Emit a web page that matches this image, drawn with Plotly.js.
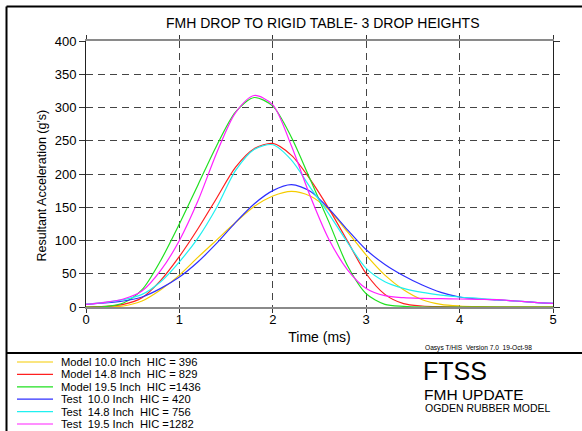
<!DOCTYPE html>
<html><head><meta charset="utf-8">
<script src="https://cdn.plot.ly/plotly-3.0.1.min.js"></script>
<style>html,body{margin:0;padding:0;background:#fff}#chart{width:582px;height:431px}</style>
</head><body><div id="chart"></div>
<script>
// ---- data ----
const time      = [0, 0.2, 0.4, 0.6, 0.8, 1.0, 1.2, 1.4, 1.6, 1.8, 2.0, 2.2, 2.4, 2.6, 2.8, 3.0, 3.2, 3.4, 3.6, 3.8, 4.0, 4.2, 4.4, 4.6, 4.8, 5.0];
const model100  = [0, 0, 1.5, 9, 26, 48, 75, 101, 127, 151, 167, 174, 167, 146, 113, 78, 48, 26, 11, 4, 1.5, 0.5, 0, 0, 0, 0];
const model148  = [0, 1, 4, 14, 40, 76, 118, 164, 210, 238, 246, 228, 192, 148, 99, 50, 19, 5, 1.5, 0.5, 0, 0, 0, 0, 0, 0];
const model195  = [0, 0.5, 6, 26, 70, 125, 184, 243, 293, 315, 302, 255, 192, 128, 62, 20, 4, 1, 0, 0, 0, 0, 0, 0, 0, 0];
const test100   = [4, 6, 9, 15, 28, 45, 68, 96, 127, 155, 175, 184, 174, 148, 116, 86, 64, 47, 33, 22, 15, 12, 10.5, 9, 7, 5.5];
const test148   = [4, 7, 11, 19, 38, 68, 104, 150, 205, 237, 244, 221, 180, 140, 97, 58, 38, 28, 22, 18, 15, 13, 11, 9, 7, 5.5];
const test195   = [4, 7, 12, 24, 55, 100, 160, 232, 292, 318, 304, 242, 167, 102, 56, 28, 17, 14, 13, 12.5, 12, 11.5, 11, 9, 7, 5.5];

const seriesValues = [model100, model148, model195, test100, test148, test195];
const seriesNames = [
  'Model 10.0 Inch\u00a0\u00a0HIC = 396',
  'Model 14.8 Inch\u00a0\u00a0HIC = 829',
  'Model 19.5 Inch\u00a0\u00a0HIC =1436',
  'Test\u00a0\u00a010.0 Inch\u00a0\u00a0HIC = 420',
  'Test\u00a0\u00a014.8 Inch\u00a0\u00a0HIC = 756',
  'Test\u00a0\u00a019.5 Inch\u00a0\u00a0HIC =1282'
];
const seriesColors = ['#f5cc00', '#ff2020', '#20e020', '#2f2fff', '#20f0f0', '#ff20ff'];
const xTicks = [0, 1, 2, 3, 4, 5];
const yTicks = [0, 50, 100, 150, 200, 250, 300, 350, 400];

// ---- layout helpers (pixel -> paper) ----
const W = 582, H = 431, M = {l: 86, r: 29, t: 41, b: 124};
const pw = W - M.l - M.r, ph = H - M.t - M.b;
const px = x => (x - M.l) / pw;
const py = y => (H - M.b - y) / ph;
const FONT = 'Liberation Sans, Arial, Helvetica, sans-serif';

const traces = seriesValues.map((v, i) => ({
  x: time, y: v, type: 'scatter', mode: 'lines', name: seriesNames[i],
  line: {color: seriesColors[i], width: 1.2, shape: 'spline', smoothing: 0.8},
  showlegend: false, hoverinfo: 'skip'
}));

const shapes = [
  {type: 'line', xref: 'paper', yref: 'paper', x0: px(6.5), x1: px(582), y0: py(6.5), y1: py(6.5), line: {color: '#000', width: 2}},
  {type: 'line', xref: 'paper', yref: 'paper', x0: px(6.5), x1: px(6.5), y0: py(6.5), y1: py(431), line: {color: '#000', width: 2}},
  {type: 'line', xref: 'paper', yref: 'paper', x0: px(6.5), x1: px(582), y0: py(353), y1: py(353), line: {color: '#000', width: 2}}
];
const annotations = [];
const rowY = [362, 374.4, 386.8, 399.2, 411.6, 424];
seriesNames.forEach((n, i) => {
  shapes.push({type: 'line', xref: 'paper', yref: 'paper', x0: px(17), x1: px(53), y0: py(rowY[i]), y1: py(rowY[i]), line: {color: seriesColors[i], width: 1.2}});
  annotations.push({xref: 'paper', yref: 'paper', x: px(60), y: py(rowY[i]), xanchor: 'left', yanchor: 'middle', text: n, showarrow: false, borderpad: 0, font: {family: FONT, size: 11.2, color: '#000'}});
});
annotations.push(
  {xref: 'paper', yref: 'paper', x: px(41.5), y: py(186), textangle: -90, xanchor: 'center', yanchor: 'middle', text: "Resultant Acceleration (g's)", showarrow: false, font: {family: FONT, size: 12.5, color: '#000'}},
  {xref: 'paper', yref: 'paper', x: px(424), y: py(347.5), xanchor: 'left', yanchor: 'middle', text: 'Oasys T/HIS\u00a0\u00a0Version 7.0\u00a0\u00a019-Oct-98', showarrow: false, borderpad: 0, font: {family: FONT, size: 6.6, color: '#000'}},
  {xref: 'paper', yref: 'paper', x: px(422), y: py(371), xanchor: 'left', yanchor: 'middle', text: 'FTSS', showarrow: false, borderpad: 0, font: {family: FONT, size: 25, color: '#000'}},
  {xref: 'paper', yref: 'paper', x: px(423), y: py(394), xanchor: 'left', yanchor: 'middle', text: 'FMH UPDATE', showarrow: false, borderpad: 0, font: {family: FONT, size: 15.5, color: '#000'}},
  {xref: 'paper', yref: 'paper', x: px(424), y: py(408), xanchor: 'left', yanchor: 'middle', text: 'OGDEN RUBBER MODEL', showarrow: false, borderpad: 0, font: {family: FONT, size: 10.5, color: '#000'}}
);

const layout = {
  width: W, height: H, margin: M, paper_bgcolor: '#fff', plot_bgcolor: '#fff',
  font: {family: FONT, color: '#000'},
  title: {text: 'FMH DROP TO RIGID TABLE- 3 DROP HEIGHTS', font: {family: FONT, size: 14, color: '#000'},
          xref: 'paper', x: 0.507, xanchor: 'center', yref: 'container', y: 1 - 23 / H, yanchor: 'middle'},
  xaxis: {range: [0, 5], tickvals: xTicks, ticktext: xTicks.map(String), ticks: 'outside', ticklen: 4, tickcolor: '#333',
          ticklabelstandoff: -4,
          showgrid: true, gridcolor: '#444', griddash: '7px,5px', gridwidth: 1, zeroline: false,
          showline: true, linecolor: '#8a8a8a', linewidth: 1.8, mirror: 'ticks',
          tickfont: {family: FONT, size: 13, color: '#000'},
          title: {text: 'Time (ms)', font: {family: FONT, size: 14, color: '#000'}, standoff: 6}, automargin: false, fixedrange: true},
  yaxis: {range: [0, 400], tickvals: yTicks, ticktext: yTicks.map(String), ticks: 'outside', ticklen: 6, tickcolor: '#333',
          showgrid: true, gridcolor: '#444', griddash: '7px,5px', gridwidth: 1,
          zeroline: false, showline: true, linecolor: '#222', linewidth: 1, mirror: 'ticks',
          tickfont: {family: FONT, size: 13, color: '#000'}, automargin: false, fixedrange: true},
  shapes: shapes, annotations: annotations, showlegend: false
};
Plotly.newPlot('chart', traces, layout, {staticPlot: true, displayModeBar: false});
</script></body></html>
